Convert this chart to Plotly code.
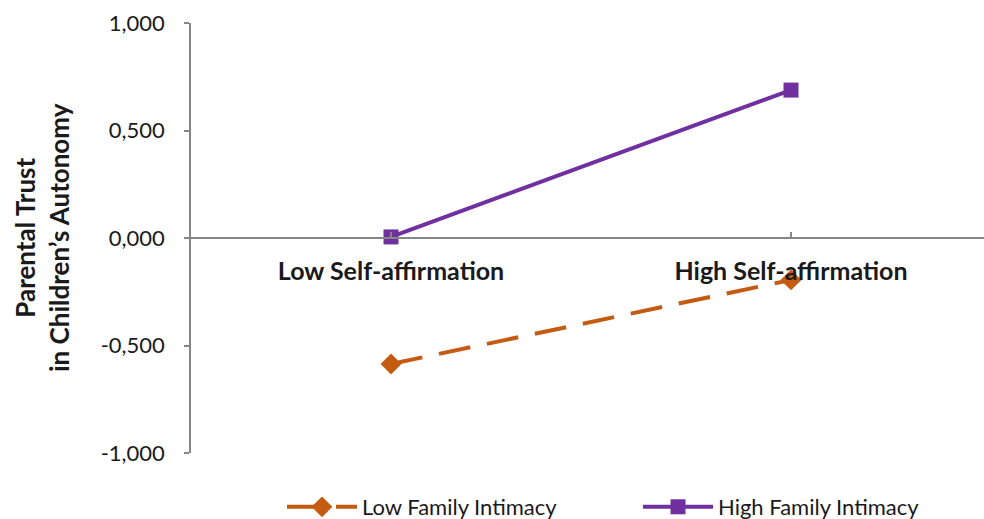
import plotly.graph_objects as go

categories = ["Low Self-affirmation", "High Self-affirmation"]
cat_pos = [0, 1]
low_intimacy = [-0.586, -0.195]
high_intimacy = [0.005, 0.688]
series_names = ["Low Family Intimacy", "High Family Intimacy"]
y_tickvals = [-1.0, -0.5, 0.0, 0.5, 1.0]
y_ticktext = ["-1,000", "-0,500", "0,000", "0,500", "1,000"]

ORANGE = "#C55A11"
PURPLE = "#7030A0"
AXIS = "#868686"
FONT = "Lato"

fig = go.Figure()
fig.add_trace(go.Scatter(
    x=cat_pos, y=low_intimacy, name=series_names[0], mode="lines+markers",
    line=dict(color=ORANGE, width=4, dash="32px,17px"),
    marker=dict(symbol="diamond", size=16, color=ORANGE),
    legend="legend",
))
fig.add_trace(go.Scatter(
    x=cat_pos, y=high_intimacy, name=series_names[1], mode="lines+markers",
    line=dict(color=PURPLE, width=4),
    marker=dict(symbol="square", size=15, color=PURPLE),
    legend="legend2",
))

legend_common = dict(orientation="h", yanchor="middle", y=(453 - 507) / 430, xanchor="left",
                     font=dict(size=22, family=FONT, color="#1a1a1a"),
                     bgcolor="rgba(0,0,0,0)", itemwidth=70)

fig.update_layout(
    width=984, height=519,
    margin=dict(l=191, r=0, t=23, b=66, autoexpand=False),
    paper_bgcolor="white", plot_bgcolor="white",
    font=dict(family=FONT, size=22, color="#1a1a1a"),
    showlegend=True,
    legend=dict(x=(282 - 191) / 793, **legend_common),
    legend2=dict(x=(638 - 191) / 793, **legend_common),
    xaxis=dict(range=[-0.5, 1.4825], anchor="free", position=0.5,
               showline=True, linecolor=AXIS, linewidth=1.5,
               tickvals=cat_pos, ticktext=categories, ticks="inside", ticklen=5,
               tickcolor=AXIS, tickwidth=1.5,
               tickfont=dict(size=25, family=FONT, weight="bold"),
               ticklabelstandoff=11,
               showgrid=False, zeroline=False),
    yaxis=dict(range=[-1, 1], tickvals=y_tickvals, ticktext=y_ticktext,
               showline=True, linecolor=AXIS, linewidth=1.5,
               ticks="outside", ticklen=5, tickcolor=AXIS, tickwidth=1.5,
               ticklabelstandoff=15,
               tickfont=dict(size=22, family=FONT),
               showgrid=False, zeroline=False),
)

fig.add_annotation(
    text="<b>Parental Trust<br>in Children’s Autonomy</b>",
    xref="paper", yref="paper", x=(42 - 191) / 793, y=0.5,
    xanchor="center", yanchor="middle", textangle=-90, showarrow=False,
    font=dict(size=26, family=FONT), align="center",
)

fig.write_html("out.html", config={"displayModeBar": False},
               post_script="document.body.style.margin='0';document.body.style.overflow='hidden';")
